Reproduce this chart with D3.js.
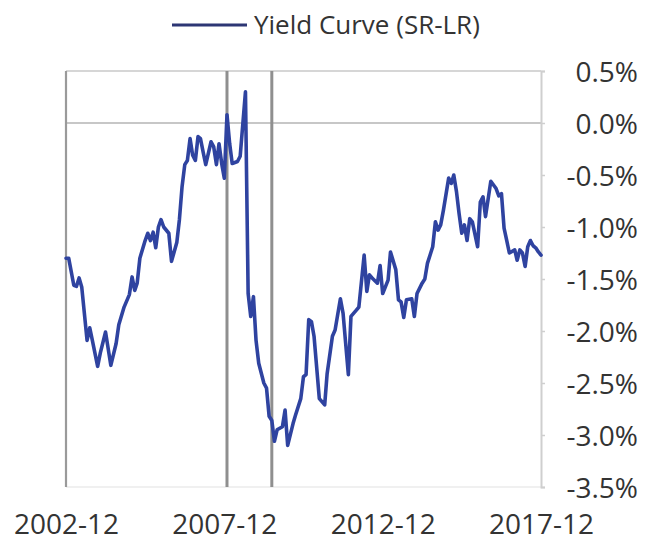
<!DOCTYPE html>
<html>
<head>
<meta charset="utf-8">
<script src="https://cdn.jsdelivr.net/npm/d3@7"></script>
<style>
  html, body { margin: 0; padding: 0; background: #ffffff; }
  svg { display: block; }
</style>
</head>
<body>
<svg id="chart" width="650" height="545"></svg>
<script>
// ---- data ----
const seriesName = "Yield Curve (SR-LR)";
const months = [
  "2002-12","2003-01","2003-03","2003-04","2003-05","2003-06","2003-08","2003-09","2003-10","2003-12",
  "2004-01","2004-03","2004-05","2004-07","2004-08","2004-10","2004-12","2005-01","2005-02","2005-03",
  "2005-04","2005-06","2005-07","2005-08","2005-09","2005-10","2005-11","2005-12","2006-01","2006-03",
  "2006-04","2006-06","2006-07","2006-08","2006-09","2006-10","2006-11","2006-12","2007-01","2007-02",
  "2007-03","2007-04","2007-05","2007-07","2007-08","2007-09","2007-10","2007-11","2007-12","2008-01",
  "2008-02","2008-03","2008-04","2008-05","2008-06","2008-08","2008-09","2008-10","2008-11","2008-12",
  "2009-01","2009-03","2009-04","2009-05","2009-06","2009-07","2009-08","2009-10","2009-11","2009-12",
  "2010-02","2010-03","2010-05","2010-06","2010-07","2010-08","2010-09","2010-10","2010-12","2011-02",
  "2011-03","2011-05","2011-06","2011-08","2011-09","2011-11","2011-12","2012-02","2012-03","2012-05",
  "2012-06","2012-07","2012-08","2012-10","2012-11","2012-12","2013-02","2013-03","2013-05","2013-06",
  "2013-07","2013-08","2013-09","2013-11","2013-12","2014-01","2014-03","2014-04","2014-05","2014-07",
  "2014-08","2014-09","2014-10","2014-11","2015-01","2015-02","2015-03","2015-04","2015-05","2015-06",
  "2015-07","2015-08","2015-09","2015-10","2015-12","2016-01","2016-02","2016-03","2016-05","2016-07",
  "2016-08","2016-09","2016-10","2016-11","2016-12","2017-02","2017-03","2017-04","2017-05","2017-06",
  "2017-07","2017-08","2017-09","2017-10","2017-11","2017-12"
];
const values = [
  -1.30,-1.30,-1.56,-1.57,-1.49,-1.58,-2.09,-1.97,-2.09,-2.34,
  -2.21,-2.01,-2.33,-2.12,-1.94,-1.77,-1.65,-1.48,-1.61,-1.54,
  -1.30,-1.13,-1.06,-1.13,-1.05,-1.20,-1.00,-0.93,-1.00,-1.06,
  -1.33,-1.15,-0.93,-0.61,-0.40,-0.36,-0.15,-0.31,-0.36,-0.13,
  -0.15,-0.28,-0.40,-0.18,-0.23,-0.40,-0.20,-0.39,-0.53, 0.08,
  -0.20,-0.39,-0.38,-0.37,-0.32, 0.30,-1.64,-1.86,-1.67,-2.09,
  -2.31,-2.50,-2.55,-2.82,-2.86,-3.06,-2.95,-2.92,-2.76,-3.10,
  -2.89,-2.81,-2.65,-2.44,-2.42,-1.89,-1.91,-2.05,-2.65,-2.71,
  -2.41,-2.05,-1.99,-1.69,-1.83,-2.42,-1.86,-1.80,-1.77,-1.27,
  -1.62,-1.46,-1.49,-1.54,-1.37,-1.64,-1.51,-1.24,-1.41,-1.70,
  -1.72,-1.87,-1.70,-1.69,-1.86,-1.64,-1.54,-1.50,-1.35,-1.19,
  -0.95,-1.03,-0.98,-0.84,-0.53,-0.58,-0.50,-0.66,-0.87,-1.06,
  -0.98,-1.13,-0.92,-0.95,-1.19,-0.76,-0.71,-0.90,-0.56,-0.63,
  -0.70,-0.68,-1.01,-1.13,-1.25,-1.22,-1.32,-1.22,-1.25,-1.38,
  -1.19,-1.13,-1.18,-1.20,-1.24,-1.27
];
const recessionLines = ["2008-01", "2009-06"];
const xTickLabels = ["2002-12", "2007-12", "2012-12", "2017-12"];
const yTickValues = [0.5, 0.0, -0.5, -1.0, -1.5, -2.0, -2.5, -3.0, -3.5];

// ---- drawing ----
const parse = d3.timeParse("%Y-%m");
const data = months.map((m, i) => ({ date: parse(m), value: values[i] }));

const svg = d3.select("#chart");
const plotL = 66, plotR = 541, plotT = 71, plotB = 487;

const x = d3.scaleTime()
  .domain([parse(xTickLabels[0]), parse(xTickLabels[xTickLabels.length - 1])])
  .range([plotL, plotR]);
const y = d3.scaleLinear().domain([-3.5, 0.5]).range([plotB, plotT]);

const FONT = "'Open Sans', 'Noto Sans', sans-serif";
const pct = d => (d < 0 ? "-" : "") + Math.abs(d).toFixed(1) + "%";

// frame: top, bottom, zero line
svg.append("line").attr("x1", plotL).attr("x2", plotR).attr("y1", y(0.5)).attr("y2", y(0.5))
  .attr("stroke", "#c9c9c9").attr("stroke-width", 1.5);
svg.append("line").attr("x1", plotL).attr("x2", plotR).attr("y1", y(-3.5)).attr("y2", y(-3.5))
  .attr("stroke", "#e2e2e2").attr("stroke-width", 1.2);
svg.append("line").attr("x1", plotL).attr("x2", plotR).attr("y1", y(0)).attr("y2", y(0))
  .attr("stroke", "#b5b5b5").attr("stroke-width", 1.5);

// right axis
const yAxis = d3.axisRight(y).tickValues(yTickValues).tickSize(4).tickPadding(0).tickFormat(pct);
const ya = svg.append("g").attr("transform", `translate(${plotR},0)`).call(yAxis);
ya.select(".domain").attr("stroke", "#cfcfcf").attr("stroke-width", 2);
ya.selectAll(".tick line").attr("stroke", "#cfcfcf").attr("stroke-width", 1.5);
ya.selectAll(".tick text")
  .attr("x", 638 - plotR).attr("text-anchor", "end").attr("dy", "0.36em")
  .attr("fill", "#333").style("font-family", FONT).style("font-size", "28px");

// left border
svg.append("line").attr("x1", plotL).attr("x2", plotL).attr("y1", plotT).attr("y2", plotB)
  .attr("stroke", "#9a9a9a").attr("stroke-width", 2.2);

// recession lines
svg.selectAll("line.rec").data(recessionLines).enter().append("line")
  .attr("class", "rec")
  .attr("x1", d => x(parse(d))).attr("x2", d => x(parse(d)))
  .attr("y1", plotT).attr("y2", plotB)
  .attr("stroke", "#8f8f8f").attr("stroke-width", 3);

// bottom axis labels
const xAxis = d3.axisBottom(x).tickValues(xTickLabels.map(parse)).tickSize(0).tickPadding(0)
  .tickFormat(d3.timeFormat("%Y-%m"));
const xa = svg.append("g").attr("transform", `translate(0,${plotB})`).call(xAxis);
xa.select(".domain").remove();
xa.selectAll(".tick text").attr("y", 47).attr("dy", 0)
  .attr("fill", "#333").style("font-family", FONT).style("font-size", "28px");

// series line
const line = d3.line().x(d => x(d.date)).y(d => y(d.value)).curve(d3.curveLinear);
svg.append("path").datum(data).attr("d", line)
  .attr("fill", "none").attr("stroke", "#2f43a0").attr("stroke-width", 3.6)
  .attr("stroke-linejoin", "round").attr("stroke-linecap", "round");

// legend
svg.append("line").attr("x1", 172).attr("x2", 247).attr("y1", 25).attr("y2", 25)
  .attr("stroke", "#2d3674").attr("stroke-width", 3);
svg.append("text").attr("x", 254).attr("y", 34).text(seriesName)
  .attr("fill", "#333").style("font-family", FONT).style("font-size", "26px");
</script>
</body>
</html>
